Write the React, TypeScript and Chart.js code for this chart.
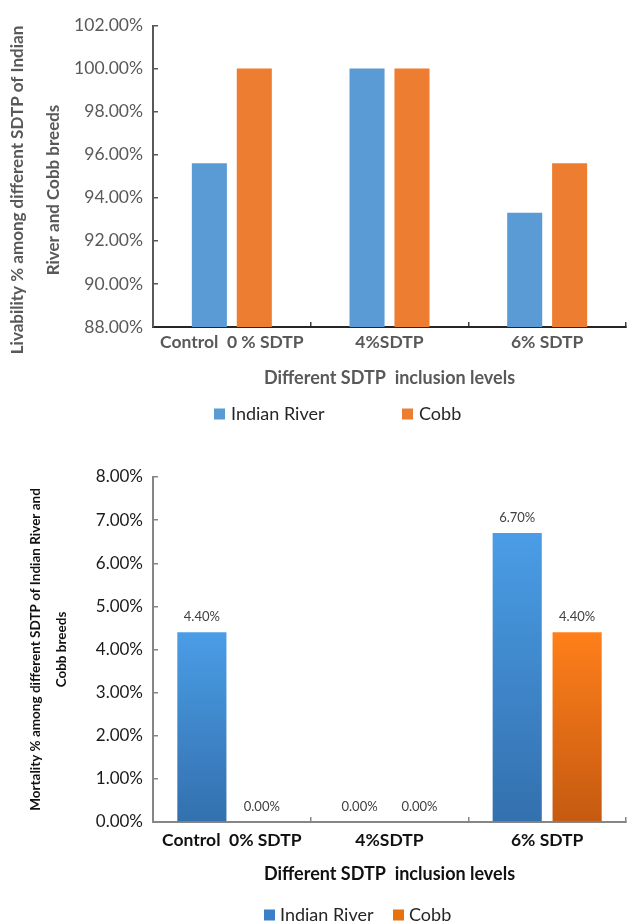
import React, { useEffect, useRef } from 'react';
import { Chart, registerables } from 'chart.js';

Chart.register(...registerables);

const FONT = 'Lato, "Open Sans", "DejaVu Sans", sans-serif';

// ---------- data ----------
const livabilityCategories = ['Control  0 % SDTP', '4%SDTP', '6% SDTP'];
const livabilityIndianRiver = [95.6, 100, 93.3];
const livabilityCobb = [100, 100, 95.6];
const livabilityTicks = [88, 90, 92, 94, 96, 98, 100, 102];

const mortalityCategories = ['Control  0% SDTP', '4%SDTP', '6% SDTP'];
const mortalityIndianRiver = [4.4, 0, 6.7];
const mortalityCobb = [0, 0, 4.4];
const mortalityTicks = [0, 1, 2, 3, 4, 5, 6, 7, 8];

const seriesNames = ['Indian River', 'Cobb'];
const xTitle = 'Different SDTP  inclusion levels';
const livabilityYTitle = ['Livability % among different SDTP of Indian', 'River and Cobb breeds'];
const mortalityYTitle = ['Mortality % among different SDTP of Indian River and', 'Cobb breeds'];

const pct = (v: number | string) => Number(v).toFixed(2) + '%';

// ---------- plugins ----------
function boxLegend(opts: { xs: number[]; y: number; box: number; textGap: number; color: string; colors: string[] }) {
  return {
    id: 'boxLegend',
    afterDraw(chart: any) {
      const ctx = chart.ctx;
      ctx.save();
      ctx.font = `18px ${FONT}`;
      ctx.textBaseline = 'middle';
      ctx.textAlign = 'left';
      chart.data.datasets.forEach((ds: any, i: number) => {
        const x = opts.xs[i];
        ctx.fillStyle = opts.colors[i];
        ctx.fillRect(x, opts.y - opts.box / 2, opts.box, opts.box);
        ctx.fillStyle = opts.color;
        ctx.fillText(ds.label, x + opts.textGap, opts.y);
      });
      ctx.restore();
    },
  };
}

function sideTitle(opts: { lines: string[]; xs: number[]; cy: number; font: string; color: string }) {
  return {
    id: 'sideTitle',
    afterDraw(chart: any) {
      const ctx = chart.ctx;
      ctx.save();
      ctx.font = opts.font;
      ctx.fillStyle = opts.color;
      ctx.textAlign = 'center';
      ctx.textBaseline = 'middle';
      opts.lines.forEach((line, i) => {
        ctx.save();
        ctx.translate(opts.xs[i], opts.cy);
        ctx.rotate(-Math.PI / 2);
        ctx.fillText(line, 0, 0);
        ctx.restore();
      });
      ctx.restore();
    },
  };
}

const valueLabels = {
  id: 'valueLabels',
  afterDatasetsDraw(chart: any) {
    const ctx = chart.ctx;
    ctx.save();
    ctx.font = `13px ${FONT}`;
    ctx.fillStyle = '#404040';
    ctx.textAlign = 'center';
    ctx.textBaseline = 'middle';
    chart.data.datasets.forEach((ds: any, i: number) => {
      const meta = chart.getDatasetMeta(i);
      meta.data.forEach((el: any, j: number) => {
        ctx.fillText(pct(ds.data[j]), el.x, el.y - 15);
      });
    });
    ctx.restore();
  },
};

function gradientFill(light: string, dark: string) {
  return (c: any) => {
    const chart = c.chart;
    if (!chart.chartArea || c.raw === undefined) return light;
    const ys = chart.scales.y;
    const top = ys.getPixelForValue(c.raw);
    const bottom = ys.getPixelForValue(0);
    if (bottom - top < 1) return dark;
    const g = chart.ctx.createLinearGradient(0, top, 0, bottom);
    g.addColorStop(0, light);
    g.addColorStop(1, dark);
    return g;
  };
}

function livabilityConfig(): any {
  const axisColor = '#404040';
  return {
    type: 'bar',
    data: {
      labels: livabilityCategories,
      datasets: [
        { label: seriesNames[0], data: livabilityIndianRiver, backgroundColor: '#5B9BD5', barPercentage: 0.78, categoryPercentage: 0.57 },
        { label: seriesNames[1], data: livabilityCobb, backgroundColor: '#ED7D31', barPercentage: 0.78, categoryPercentage: 0.57 },
      ],
    },
    options: {
      animation: false,
      responsive: false,
      layout: { padding: { top: 17, right: 1, bottom: 51, left: 0 } },
      plugins: { legend: { display: false }, tooltip: { enabled: false } },
      scales: {
        x: {
          afterFit: (s: any) => { s.height = 62; },
          ticks: { color: '#595959', font: { family: FONT, size: 17.5, weight: 'bold' }, padding: 10, autoSkip: false, maxRotation: 0 },
          grid: { drawOnChartArea: false, tickLength: -5, color: axisColor, lineWidth: 1.5, offset: true },
          border: { color: '#262626', width: 2 },
          title: { display: true, text: xTitle, color: '#595959', font: { family: FONT, size: 18, weight: 'bold' }, padding: 0 },
        },
        y: {
          min: 88,
          max: 102,
          afterBuildTicks: (s: any) => { s.ticks = livabilityTicks.map((v) => ({ value: v })); },
          afterFit: (s: any) => { s.width = 153; },
          ticks: { callback: (v: any) => pct(v), color: '#595959', font: { family: FONT, size: 17.5 }, padding: 15 },
          grid: { drawOnChartArea: false, tickLength: -5, color: '#595959', lineWidth: 1.5 },
          border: { color: '#595959', width: 2 },
        },
      },
    },
    plugins: [
      sideTitle({ lines: livabilityYTitle, xs: [18, 54], cy: 190, font: `bold 17px ${FONT}`, color: '#595959' }),
      boxLegend({ xs: [214, 402], y: 414, box: 11, textGap: 17, color: '#262626', colors: ['#5B9BD5', '#ED7D31'] }),
    ],
  };
}

function mortalityConfig(): any {
  const axisColor = '#868686';
  return {
    type: 'bar',
    data: {
      labels: mortalityCategories,
      datasets: [
        { label: seriesNames[0], data: mortalityIndianRiver, backgroundColor: gradientFill('#4A9DE6', '#3370AE'), barPercentage: 0.82, categoryPercentage: 0.76 },
        { label: seriesNames[1], data: mortalityCobb, backgroundColor: gradientFill('#FF7F1A', '#C55A11'), barPercentage: 0.82, categoryPercentage: 0.76 },
      ],
    },
    options: {
      animation: false,
      responsive: false,
      layout: { padding: { top: 37, right: 1, bottom: 39, left: 0 } },
      plugins: { legend: { display: false }, tooltip: { enabled: false } },
      scales: {
        x: {
          afterFit: (s: any) => { s.height = 63; },
          ticks: { color: '#111111', font: { family: FONT, size: 17.5, weight: 'bold' }, padding: 12.5, autoSkip: false, maxRotation: 0 },
          grid: { drawOnChartArea: false, tickLength: -5, color: axisColor, lineWidth: 1.5, offset: true },
          border: { color: axisColor, width: 2 },
          title: { display: true, text: xTitle, color: '#111111', font: { family: FONT, size: 18, weight: 'bold' }, padding: 0 },
        },
        y: {
          min: 0,
          max: 8,
          afterBuildTicks: (s: any) => { s.ticks = mortalityTicks.map((v) => ({ value: v })); },
          afterFit: (s: any) => { s.width = 153; },
          ticks: { callback: (v: any) => pct(v), color: '#1a1a1a', font: { family: FONT, size: 17 }, padding: 15 },
          grid: { drawOnChartArea: false, tickLength: -5, color: axisColor, lineWidth: 1.5 },
          border: { color: axisColor, width: 2 },
          title: {
            display: true,
            text: mortalityYTitle,
            color: '#111111',
            font: { family: FONT, size: 13.5, weight: 'bold', lineHeight: 26 / 13.5 },
            padding: { top: 23, bottom: 0 },
          },
        },
      },
    },
    plugins: [
      valueLabels,
      boxLegend({ xs: [264, 393], y: 475, box: 11, textGap: 16, color: '#262626', colors: ['#3A80C8', '#E8700F'] }),
    ],
  };
}

export default function App() {
  const topRef = useRef<HTMLCanvasElement>(null);
  const bottomRef = useRef<HTMLCanvasElement>(null);

  useEffect(() => {
    const c1 = new Chart(topRef.current as HTMLCanvasElement, livabilityConfig());
    const c2 = new Chart(bottomRef.current as HTMLCanvasElement, mortalityConfig());
    return () => {
      c1.destroy();
      c2.destroy();
    };
  }, []);

  return (
    <div style={{ position: 'absolute', left: 0, top: 0, width: 627, height: 924, overflow: 'hidden', background: '#ffffff' }}>
      <canvas ref={topRef} width={627} height={440} style={{ position: 'absolute', left: 0, top: 0, width: 627, height: 440 }} />
      <canvas ref={bottomRef} width={627} height={484} style={{ position: 'absolute', left: 0, top: 440, width: 627, height: 484 }} />
    </div>
  );
}
